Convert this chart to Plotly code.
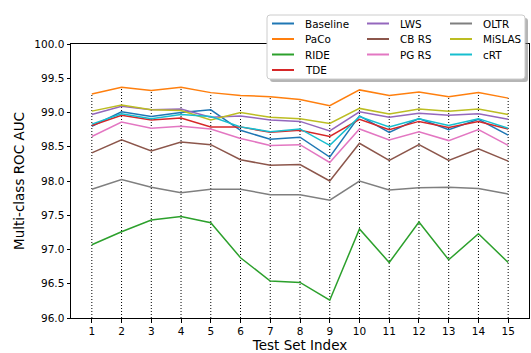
import plotly.graph_objects as go

# ---- data -------------------------------------------------------------
test_set = list(range(1, 16))

baseline = [98.80, 99.01, 98.94, 99.00, 99.04, 98.74, 98.61, 98.64, 98.35, 98.95, 98.71, 98.91, 98.75, 98.90, 98.67]
paco     = [99.27, 99.37, 99.32, 99.37, 99.29, 99.25, 99.23, 99.19, 99.10, 99.33, 99.25, 99.30, 99.23, 99.29, 99.21]
ride     = [97.07, 97.26, 97.43, 97.48, 97.39, 96.88, 96.54, 96.52, 96.26, 97.30, 96.81, 97.40, 96.85, 97.23, 96.81]
tde      = [98.81, 98.96, 98.89, 98.92, 98.79, 98.79, 98.71, 98.74, 98.65, 98.90, 98.75, 98.87, 98.78, 98.87, 98.76]
lws      = [98.97, 99.09, 99.04, 99.05, 98.93, 98.95, 98.89, 98.87, 98.73, 99.01, 98.93, 98.99, 98.96, 98.98, 98.90]
cb_rs    = [98.41, 98.60, 98.44, 98.57, 98.53, 98.31, 98.23, 98.24, 98.00, 98.55, 98.30, 98.53, 98.30, 98.47, 98.29]
pg_rs    = [98.65, 98.86, 98.77, 98.80, 98.76, 98.62, 98.52, 98.53, 98.27, 98.76, 98.60, 98.72, 98.59, 98.75, 98.52]
oltr     = [97.88, 98.02, 97.91, 97.83, 97.88, 97.88, 97.80, 97.80, 97.72, 98.00, 97.87, 97.90, 97.91, 97.89, 97.81]
mislas   = [99.02, 99.11, 99.04, 99.03, 98.89, 99.00, 98.93, 98.91, 98.84, 99.06, 98.98, 99.05, 99.02, 99.05, 98.97]
crt      = [98.83, 98.98, 98.91, 98.97, 98.94, 98.79, 98.72, 98.76, 98.52, 98.94, 98.79, 98.91, 98.81, 98.91, 98.77]

method_names = ["Baseline", "PaCo", "RIDE", "TDE", "LWS", "CB RS", "PG RS", "OLTR", "MiSLAS", "cRT"]
method_values = [baseline, paco, ride, tde, lws, cb_rs, pg_rs, oltr, mislas, crt]
method_colors = ["#1f77b4", "#ff7f0e", "#2ca02c", "#d62728", "#9467bd",
                 "#8c564b", "#e377c2", "#7f7f7f", "#bcbd22", "#17becf"]

y_min, y_max = 96.0, 100.0
y_ticks = [96.0, 96.5, 97.0, 97.5, 98.0, 98.5, 99.0, 99.5, 100.0]

# ---- page geometry (pixels) ------------------------------------------
W, H = 531, 353
ML, MR, MT, MB = 71, 2, 44, 35
PW, PH = W - ML - MR, H - MT - MB
FONT = "DejaVu Sans"


def paper_x(px):
    return (px - ML) / PW


def paper_y(py):
    return (H - MB - py) / PH


fig = go.Figure()

# dotted guides from the bottom of the axis up to the best score per test set
guide_x, guide_y = [], []
for i, x in enumerate(test_set):
    top = max(series[i] for series in method_values)
    guide_x += [x, x, None]
    guide_y += [y_min, top, None]
fig.add_trace(go.Scatter(
    x=guide_x, y=guide_y, mode="lines", showlegend=False, hoverinfo="skip",
    line=dict(color="black", width=1, dash="1px,2px"),
))

for name, vals, color in zip(method_names, method_values, method_colors):
    fig.add_trace(go.Scatter(
        x=test_set, y=vals, mode="lines", name=name, showlegend=False,
        line=dict(color=color, width=1.5),
    ))

# ---- legend box (three columns, drawn as shapes + text) --------------
shapes = []
annotations = []
box_l, box_r, box_t, box_b = 267, 525, 15, 79
rad = 3


def rounded_path(l, t, r, b, rr):
    rx = rr / PW
    ry = rr / PH
    x0, x1 = paper_x(l), paper_x(r)
    y0, y1 = paper_y(b), paper_y(t)
    return (f"M{x0 + rx},{y1} L{x1 - rx},{y1} Q{x1},{y1} {x1},{y1 - ry} "
            f"L{x1},{y0 + ry} Q{x1},{y0} {x1 - rx},{y0} "
            f"L{x0 + rx},{y0} Q{x0},{y0} {x0},{y0 + ry} "
            f"L{x0},{y1 - ry} Q{x0},{y1} {x0 + rx},{y1} Z")


shapes.append(dict(type="path", xref="paper", yref="paper", layer="above",
                   path=rounded_path(box_l + 3, box_t + 3, box_r + 3, box_b + 3, rad),
                   fillcolor="rgba(120,120,120,0.55)", line=dict(width=0)))
shapes.append(dict(type="path", xref="paper", yref="paper", layer="above",
                   path=rounded_path(box_l, box_t, box_r, box_b, rad),
                   fillcolor="white", line=dict(color="#cccccc", width=1)))

legend_columns = [["Baseline", "PaCo", "RIDE", "TDE"],
                  ["LWS", "CB RS", "PG RS"],
                  ["OLTR", "MiSLAS", "cRT"]]
col_start = [272, 367, 450]
handle_len, text_pad = 22, 8.5
row_top, row_step = 23.5, 15.5
color_of = dict(zip(method_names, method_colors))

for c, names in enumerate(legend_columns):
    for r, name in enumerate(names):
        yy = paper_y(row_top + r * row_step)
        x0 = col_start[c]
        shapes.append(dict(type="line", xref="paper", yref="paper", layer="above",
                           x0=paper_x(x0), x1=paper_x(x0 + handle_len), y0=yy, y1=yy,
                           line=dict(color=color_of[name], width=2)))
        annotations.append(dict(text=name, xref="paper", yref="paper",
                                x=paper_x(x0 + handle_len + text_pad), y=yy,
                                xanchor="left", yanchor="middle", showarrow=False,
                                font=dict(family=FONT, size=10.4, color="black")))

fig.update_layout(
    width=W, height=H,
    margin=dict(l=ML, r=MR, t=MT, b=MB),
    paper_bgcolor="white", plot_bgcolor="white",
    font=dict(family=FONT, color="black"),
    shapes=shapes, annotations=annotations,
    showlegend=False,
)

fig.update_xaxes(
    range=[0.3, 15.7], tickvals=test_set, ticktext=[str(v) for v in test_set],
    showgrid=False, zeroline=False,
    showline=True, linecolor="black", linewidth=1, mirror=True,
    ticks="outside", ticklen=3.5, tickwidth=1, tickcolor="black",
    tickfont=dict(family=FONT, size=10.5, color="black"),
    title=dict(text="Test Set Index", font=dict(family=FONT, size=13.5, color="black"), standoff=4),
)
fig.update_yaxes(
    range=[y_min, y_max], tickvals=y_ticks, ticktext=[f"{v:.1f}" for v in y_ticks],
    showgrid=False, zeroline=False,
    showline=True, linecolor="black", linewidth=1, mirror=True,
    ticks="outside", ticklen=3.5, tickwidth=1, tickcolor="black",
    tickfont=dict(family=FONT, size=10.5, color="black"),
    title=dict(text="Multi-class ROC AUC", font=dict(family=FONT, size=13.5, color="black"), standoff=6),
)

fig.write_html("out.html")
